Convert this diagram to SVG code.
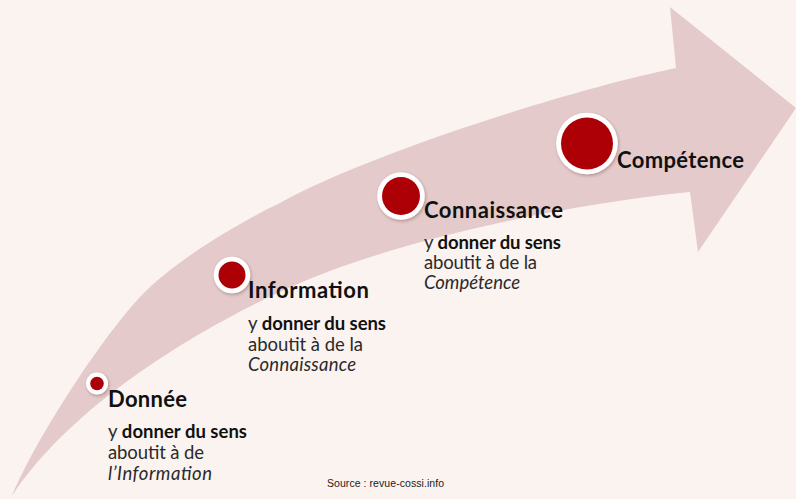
<svg xmlns="http://www.w3.org/2000/svg" width="796" height="499" viewBox="0 0 796 499">
<defs>
<style>
.title{font-family:Lato,"Open Sans","Noto Sans",sans-serif;font-weight:bold;font-size:22px;fill:#111}
.body{font-family:Lato,"Open Sans","Noto Sans",sans-serif;font-size:18.5px;fill:#2a2a2a}
.b{font-weight:bold;fill:#111}
.i{font-style:italic}
.ring{fill:#ffffff;filter:url(#sh)}
.dot{fill:#ad0006}
.src{font-family:"Liberation Sans",Arial,sans-serif;font-size:10.5px;fill:#222}
</style>
<filter id="sh" x="-30%" y="-30%" width="160%" height="160%">
<feDropShadow dx="1" dy="1.5" stdDeviation="1.5" flood-color="#5a2a2a" flood-opacity="0.35"/>
</filter>
</defs>
<rect x="0" y="0" width="796" height="499" fill="#fbf3ef"/>
<g id="arrow">
<path fill="#e4cacb" d="M12,496 C35,440 100,340 140,297 C175,260 240,222 280,203 C360,158 560,92 676,68 L670,7 L796,108 L698,252 L690,192 C560,205 400,240 300,283 C210,322 75,400 12,496 Z"/>
</g>
<g id="node-donnee">
<circle class="ring" cx="97" cy="383.5" r="11"/>
<circle class="dot" cx="97" cy="383.5" r="6.8"/>
<text class="title" x="108" y="406.5" textLength="79">Donnée</text>
<text class="body" x="108" y="437.5" textLength="139">y <tspan class="b">donner du sens</tspan></text>
<text class="body" x="108" y="458.5" textLength="96">aboutit à de</text>
<text class="body i" x="108" y="479.5" textLength="104">l’Information</text>
</g>
<g id="node-information">
<circle class="ring" cx="232" cy="275" r="18.3"/>
<circle class="dot" cx="232" cy="275" r="13.5"/>
<text class="title" x="248" y="298" textLength="121">Information</text>
<text class="body" x="248" y="329.5" textLength="138">y <tspan class="b">donner du sens</tspan></text>
<text class="body" x="248" y="350.5" textLength="115">aboutit à de la</text>
<text class="body i" x="248" y="371" textLength="108">Connaissance</text>
</g>
<g id="node-connaissance">
<circle class="ring" cx="401" cy="196" r="23.8"/>
<circle class="dot" cx="401" cy="196" r="19"/>
<text class="title" x="424" y="218" textLength="139">Connaissance</text>
<text class="body" x="424" y="248.5" textLength="137">y <tspan class="b">donner du sens</tspan></text>
<text class="body" x="424" y="268.5" textLength="113">aboutit à de la</text>
<text class="body i" x="424" y="289" textLength="96">Compétence</text>
</g>
<g id="node-competence">
<circle class="ring" cx="587" cy="143.5" r="30.8"/>
<circle class="dot" cx="587" cy="143.5" r="26"/>
<text class="title" x="617" y="168" textLength="127">Compétence</text>
</g>
<text class="src" x="327" y="486.5" textLength="117">Source : revue-cossi.info</text>
</svg>
